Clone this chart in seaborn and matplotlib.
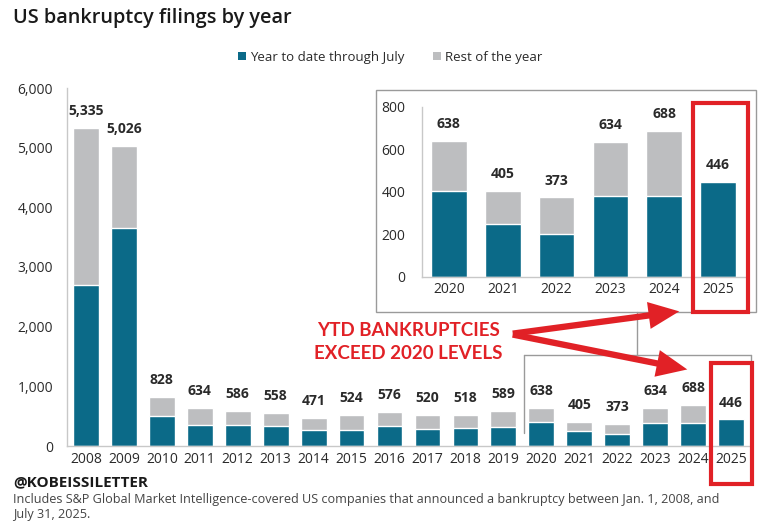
import numpy as np
import pandas as pd
import matplotlib
matplotlib.use("Agg")
import matplotlib.pyplot as plt
import seaborn as sns
from matplotlib.patches import Patch, Rectangle, FancyArrowPatch
from matplotlib.lines import Line2D

# ---------------------------------------------------------------
# data
# ---------------------------------------------------------------
years = ["2008", "2009", "2010", "2011", "2012", "2013", "2014", "2015", "2016",
         "2017", "2018", "2019", "2020", "2021", "2022", "2023", "2024", "2025"]
total_filings = [5335, 5026, 828, 634, 586, 558, 471, 524, 576,
                 520, 518, 589, 638, 405, 373, 634, 688, 446]
ytd_filings = [2700, 3650, 510, 350, 350, 330, 260, 275, 340,
               290, 300, 315, 403, 248, 200, 381, 380, 446]

inset_years = ["2020", "2021", "2022", "2023", "2024", "2025"]
main_yticks = [0, 1000, 2000, 3000, 4000, 5000, 6000]
inset_yticks = [0, 200, 400, 600, 800]

TEAL = "#0b6a88"
GREY = "#bdbec0"
RED = "#e12126"
TXT = "#2a2a2a"

df = pd.DataFrame({"year": years, "total": total_filings, "ytd": ytd_filings})
df_in = df[df["year"].isin(inset_years)].reset_index(drop=True)

sns.set_theme(style="white")
plt.rcParams["font.family"] = ["Open Sans", "DejaVu Sans"]

W, H = 767, 530
fig = plt.figure(figsize=(W / 100, H / 100), dpi=100)


def fx(px):
    return px / W


def fy(py):
    return 1 - py / H


def style_axes(ax):
    sns.despine(ax=ax, top=True, right=True)
    for s in ["left", "bottom"]:
        ax.spines[s].set_color("#c8c8c8")
        ax.spines[s].set_linewidth(1.0)
    ax.tick_params(axis="both", length=0, colors=TXT, labelsize=10)
    ax.set_xlabel("")
    ax.set_ylabel("")


# ---------------------------------------------------------------
# main chart
# ---------------------------------------------------------------
ax = fig.add_axes([fx(67), fy(446), fx(750) - fx(67), fy(88) - fy(446)])
sns.barplot(data=df, x="year", y="total", color=GREY, width=0.68,
            saturation=1, ax=ax)
sns.barplot(data=df, x="year", y="ytd", color=TEAL, width=0.68,
            saturation=1, ax=ax)
ax.set_ylim(0, 6000)
ax.set_xlim(-0.5, len(years) - 0.5)
ax.set_yticks(main_yticks)
ax.set_yticklabels([f"{v:,}" for v in main_yticks])
ax.tick_params(axis="y", pad=10)
ax.tick_params(axis="x", pad=4)
style_axes(ax)
for i, v in enumerate(total_filings):
    ax.annotate(f"{v:,}", (i, v), xytext=(0, 7), textcoords="offset points",
                ha="center", va="bottom", fontsize=10, fontweight="bold",
                color=TXT)

# ---------------------------------------------------------------
# inset (2020-2025 zoom)
# ---------------------------------------------------------------
fig.patches.append(Rectangle((fx(376), fy(312)), fx(756) - fx(376),
                             fy(90) - fy(312), transform=fig.transFigure,
                             facecolor="white", edgecolor="#9a9a9a",
                             linewidth=1.0, zorder=2))
axi = fig.add_axes([fx(422), fy(276.7), fx(745) - fx(422), fy(106.7) - fy(276.7)],
                   zorder=3)
axi.patch.set_alpha(0)
sns.barplot(data=df_in, x="year", y="total", color=GREY, width=0.66,
            saturation=1, ax=axi)
sns.barplot(data=df_in, x="year", y="ytd", color=TEAL, width=0.66,
            saturation=1, ax=axi)
axi.set_ylim(0, 800)
axi.set_xlim(-0.5, len(inset_years) - 0.5)
axi.set_yticks(inset_yticks)
axi.tick_params(axis="y", pad=12)
axi.tick_params(axis="x", pad=4)
style_axes(axi)
for i, v in enumerate(df_in["total"]):
    axi.annotate(f"{v:,}", (i, v), xytext=(0, 7), textcoords="offset points",
                 ha="center", va="bottom", fontsize=10, fontweight="bold",
                 color=TXT)

# ---------------------------------------------------------------
# connector lines, highlight boxes and arrows
# ---------------------------------------------------------------
grey_lines = [
    [(637, 312), (637, 355)],
    [(524, 355), (751, 355)],
    [(524, 355), (524, 433)],
    [(751, 355), (751, 365)],
]
for seg in grey_lines:
    (x0, y0), (x1, y1) = seg
    fig.lines.append(Line2D([fx(x0), fx(x1)], [fy(y0), fy(y1)],
                            transform=fig.transFigure, color="#9a9a9a",
                            linewidth=1.0, zorder=4))

for (x0, y0, x1, y1) in [(693, 103, 748, 312), (711, 363, 752, 484)]:
    fig.patches.append(Rectangle((fx(x0), fy(y1)), fx(x1) - fx(x0),
                                 fy(y0) - fy(y1), transform=fig.transFigure,
                                 facecolor="none", edgecolor=RED,
                                 linewidth=3.0, zorder=6))

for tip in [(682, 311), (690, 370)]:
    arr = FancyArrowPatch((fx(510), fy(334)), (fx(tip[0]), fy(tip[1])),
                          transform=fig.transFigure,
                          arrowstyle="simple,head_length=1.7,head_width=1.5,tail_width=0.35",
                          mutation_scale=13, color=RED, linewidth=0, zorder=7)
    fig.patches.append(arr)

fig.text(fx(408), fy(342), "YTD BANKRUPTCIES\nEXCEED 2020 LEVELS",
         ha="center", va="center", fontsize=13.5, fontweight="bold",
         color=RED, family=["Lato", "DejaVu Sans"], linespacing=1.45)

# ---------------------------------------------------------------
# title, legend, footer
# ---------------------------------------------------------------
fig.text(fx(13), fy(18), "US bankruptcy filings by year", ha="left",
         va="center", fontsize=14.3, fontweight="semibold", color="#1a1a1a")

handles = [Patch(facecolor=TEAL, edgecolor="none", label="Year to date through July"),
           Patch(facecolor=GREY, edgecolor="none", label="Rest of the year")]
fig.legend(handles=handles, loc="center", bbox_to_anchor=(fx(390), fy(57)),
           ncol=2, frameon=False, fontsize=9.5, handlelength=0.6,
           handleheight=0.6, handletextpad=0.3, columnspacing=2.2,
           labelcolor=TXT)

fig.text(fx(13), fy(482), "@KOBEISSILETTER", ha="left", va="center",
         fontsize=11, fontweight="bold", color="#1a1a1a")
fig.text(fx(13), fy(507),
         "Includes S&P Global Market Intelligence-covered US companies that announced a bankruptcy between Jan. 1, 2008, and\nJuly 31, 2025.",
         ha="left", va="center", fontsize=9.1, color="#444444", linespacing=1.2)

fig.savefig("out.png", dpi=100, facecolor="white")
